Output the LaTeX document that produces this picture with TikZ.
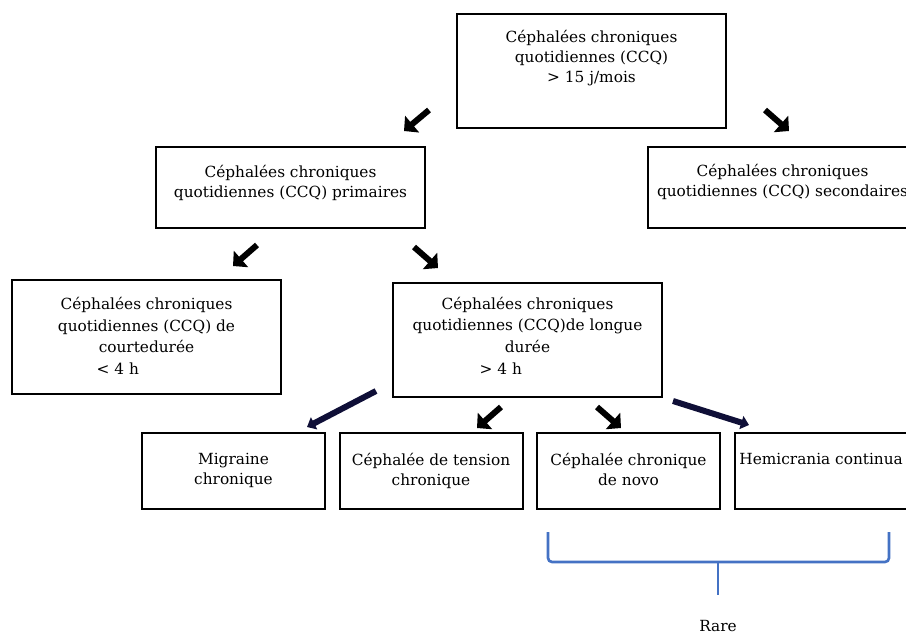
\documentclass[tikz,border=0pt]{standalone}
\usepackage{fontspec}
\setmainfont{DejaVu Serif}
\usetikzlibrary{arrows.meta,positioning}
\definecolor{braceblue}{RGB}{68,114,196}
\definecolor{darknavy}{RGB}{15,15,55}

\tikzset{
  box/.style={draw, line width=1.5pt, inner sep=0pt, minimum width=201.75pt},
  bigbox/.style={box, minimum height=85.5pt},
  midbox/.style={box, minimum height=60.75pt},
  lowbox/.style={box, minimum width=137.25pt, minimum height=57pt},
  txt/.style={align=center, inner sep=0pt, font=\fontsize{11.5}{15}\selectfont},
  widetxt/.style={txt, font=\fontsize{11.5}{16.2}\selectfont},
  blockarrow/.style={line width=4.5pt, -{Triangle[length=8pt,width=16pt]}},
  longarrow/.style={darknavy, line width=4.5pt, -{Triangle[length=6pt,width=10pt]}},
  bracepath/.style={braceblue, line width=2pt, rounded corners=3pt}
}

\begin{document}
\begin{tikzpicture}[x=0.75pt, y=-0.75pt]
  \clip (0,0) rectangle (906,635);

  % Top box
  \node[bigbox] (ccq) at (591.5,71) {};
  \node[txt, below=12.75pt of ccq.north] (ccqT) {Céphalées chroniques\\ quotidiennes (CCQ)\\ > 15 j/mois};

  % Primary and secondary
  \node[midbox] (prim) at (290.5,187.5) {};
  \node[txt, below=14pt of prim.north] (primT) {Céphalées chroniques\\ quotidiennes (CCQ) primaires};
  \node[midbox] (sec) at (782.5,187) {};
  \node[txt, below=14pt of sec.north] (secT) {Céphalées chroniques\\ quotidiennes (CCQ) secondaires};

  % Short and long duration
  \node[bigbox] (courte) at (146.5,336.5) {};
  \node[widetxt, below=14pt of courte.north] (courteT) {Céphalées chroniques\\ quotidiennes (CCQ) de\\ courtedurée\\ \hspace*{-43pt}< 4 h};
  \node[bigbox] (longue) at (527.5,340) {};
  \node[widetxt, below=11pt of longue.north] (longueT) {Céphalées chroniques\\ quotidiennes (CCQ)de longue\\ durée\\ \hspace*{-40pt}> 4 h};

  % Bottom row
  \node[lowbox] (migraine) at (233.5,471) {};
  \node[txt, below=16pt of migraine.north] (migraineT) {Migraine\\ chronique};
  \node[lowbox] (tension) at (431,471) {};
  \node[txt, below=16pt of tension.north] (tensionT) {Céphalée de tension\\ chronique};
  \node[lowbox] (novo) at (628.5,471) {};
  \node[txt, below=16pt of novo.north] (novoT) {Céphalée chronique\\ de novo};
  \node[lowbox] (hemi) at (826.5,471) {};
  \node[txt, below=16pt of hemi.north, xshift=-4pt] (hemiT) {Hemicrania continua};

  % Small block arrows
  \coordinate (a1s) at (429,110); \coordinate (a1e) at (404,131);
  \coordinate (a2s) at (765,110); \coordinate (a2e) at (789,131);
  \coordinate (a3s) at (257,245); \coordinate (a3e) at (233,266);
  \coordinate (a4s) at (414,247); \coordinate (a4e) at (438,268);
  \coordinate (a5s) at (501,407); \coordinate (a5e) at (477,428);
  \coordinate (a6s) at (597,407); \coordinate (a6e) at (621,428);
  \draw[blockarrow] (a1s) -- (a1e);
  \draw[blockarrow] (a2s) -- (a2e);
  \draw[blockarrow] (a3s) -- (a3e);
  \draw[blockarrow] (a4s) -- (a4e);
  \draw[blockarrow] (a5s) -- (a5e);
  \draw[blockarrow] (a6s) -- (a6e);

  % Long arrows
  \draw[longarrow] ([shift={(-16,-7)}]longue.south west) -- ([shift={(-19,-5)}]migraine.north east);
  \draw[longarrow] ([shift={(10,3)}]longue.south east) -- ([shift={(15,-7)}]hemi.north west);

  % Brace
  \draw[bracepath] (548,532) -- (548,562) -- (889,562) -- (889,532);
  \draw[bracepath] (718,562) -- (718,595);
  \node[txt] (rare) at (718,626) {Rare};
\end{tikzpicture}
\end{document}
